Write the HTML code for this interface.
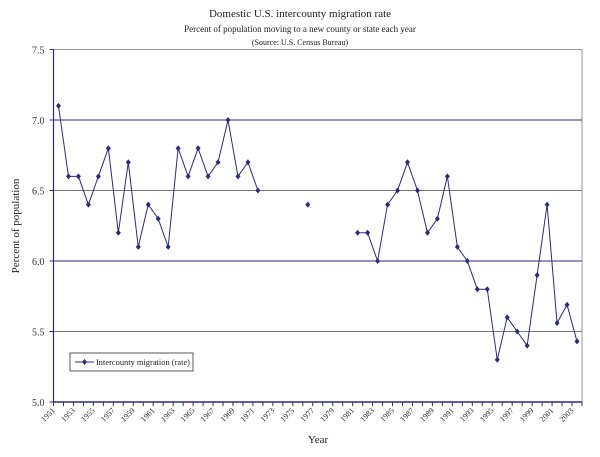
<!DOCTYPE html>
<html><head><meta charset="utf-8"><style>
body{margin:0;background:#fff;}
svg{display:block;font-family:"Liberation Serif",serif;}
</style></head><body>
<svg id="chart" width="600" height="457" viewBox="0 0 600 457">
<text x="300" y="17" text-anchor="middle" font-size="11" fill="#222">Domestic U.S. intercounty migration rate</text>
<text x="300" y="32" text-anchor="middle" font-size="9" fill="#222">Percent of population moving to a new county or state each year</text>
<text x="300" y="45" text-anchor="middle" font-size="8" fill="#222">(Source: U.S. Census Bureau)</text>
<g id="plot"></g>
<text x="318" y="443" text-anchor="middle" font-size="11" fill="#222">Year</text>
<text transform="translate(19,226) rotate(-90)" text-anchor="middle" font-size="11" fill="#222">Percent of population</text>
<g>
<rect x="70" y="353" width="123" height="18" fill="#fff" stroke="#555" stroke-width="1"/>
<line x1="75" y1="362" x2="94" y2="362" stroke="#2e2a7a" stroke-width="1"/>
<path d="M84.5 359 L87 362 L84.5 365 L82 362 Z" fill="#2e2a7a"/>
<text x="96" y="365" font-size="8.5" textLength="94" lengthAdjust="spacingAndGlyphs" fill="#222">Intercounty migration (rate)</text>
</g>
</svg>
<script>
const years = [];
for (let y = 1951; y <= 2003; y++) years.push(y);
const rates = [7.1,6.6,6.6,6.4,6.6,6.8,6.2,6.7,6.1,6.4,6.3,6.1,6.8,6.6,6.8,6.6,6.7,7.0,6.6,6.7,6.5,
 null,null,null,null,6.4,null,null,null,null,
 6.2,6.2,6.0,6.4,6.5,6.7,6.5,6.2,6.3,6.6,6.1,6.0,5.8,5.8,5.3,5.6,5.5,5.4,5.9,6.4,5.56,5.69,5.43];
const yTicks = [5.0,5.5,6.0,6.5,7.0,7.5];
const gridValues = [5.5,6.0,6.5,7.0];

const NS = "http://www.w3.org/2000/svg";
const L = 53.5, R = 582, T = 49.5, B = 402;
const yMin = 5.0, yMax = 7.5;
const bw = (R - L) / years.length;
const xPos = i => L + (i + 0.5) * bw;
const yPos = v => B - (v - yMin) / (yMax - yMin) * (B - T);
const g = document.getElementById('plot');
function mk(tag, attrs){ const e = document.createElementNS(NS, tag); for (const k in attrs) e.setAttribute(k, attrs[k]); g.appendChild(e); return e; }

const frame = mk('rect', {x:L, y:T, width:R-L, height:B-T, fill:'none', stroke:'#999', 'stroke-width':1});



gridValues.forEach(v => {
  const ln = mk('line', {x1:L, x2:R, y1:yPos(v), y2:yPos(v), stroke: (v===6.5||v===5.5) ? '#777' : '#2e2a7a', 'stroke-width':1});
  
  
});

const ax = mk('line', {x1:L, x2:L, y1:T, y2:B, stroke:'#2e2a7a', 'stroke-width':1.2});


const bx = mk('line', {x1:L, x2:R, y1:B, y2:B, stroke:'#2e2a7a', 'stroke-width':1.5});



yTicks.forEach(v => {
  const t = mk('text', {x:L-9, y:yPos(v)+4, 'text-anchor':'end', 'font-size':10, fill:'#333'});
  t.textContent = v.toFixed(1);
  
  
  const tk = mk('line', {x1:L-4, x2:L, y1:yPos(v), y2:yPos(v), stroke:'#2e2a7a'});
  
  
});

for (let i = 0; i <= years.length; i++) {
  const x = L + i * bw;
  const tk = mk('line', {x1:x, x2:x, y1:B, y2:B+4, stroke:'#2e2a7a'});
  
  
}
years.forEach((yr, i) => {
  if (i % 2) return;
  const x = L + i * bw + 2;
  const t = mk('text', {x:x, y:B+9, 'text-anchor':'end', 'font-size':8, fill:'#333', transform:`rotate(-45 ${x} ${B+9})`});
  t.textContent = yr;
  
  
});

let seg = [];
const segs = [];
rates.forEach((v, i) => {
  if (v === null) { if (seg.length) segs.push(seg); seg = []; }
  else seg.push([xPos(i), yPos(v)]);
});
if (seg.length) segs.push(seg);
segs.forEach(s => {
  if (s.length < 2) return;
  const p = mk('polyline', {points: s.map(q => q.join(',')).join(' '), fill:'none', stroke:'#2e2a7a', 'stroke-width':1});
  
  
});
rates.forEach((v, i) => {
  if (v === null) return;
  const x = xPos(i), y = yPos(v);
  const m = mk('path', {d:`M${x} ${y-3} L${x+2.5} ${y} L${x} ${y+3} L${x-2.5} ${y} Z`, fill:'#2e2a7a'});
  
  
});
</script>
</body></html>
